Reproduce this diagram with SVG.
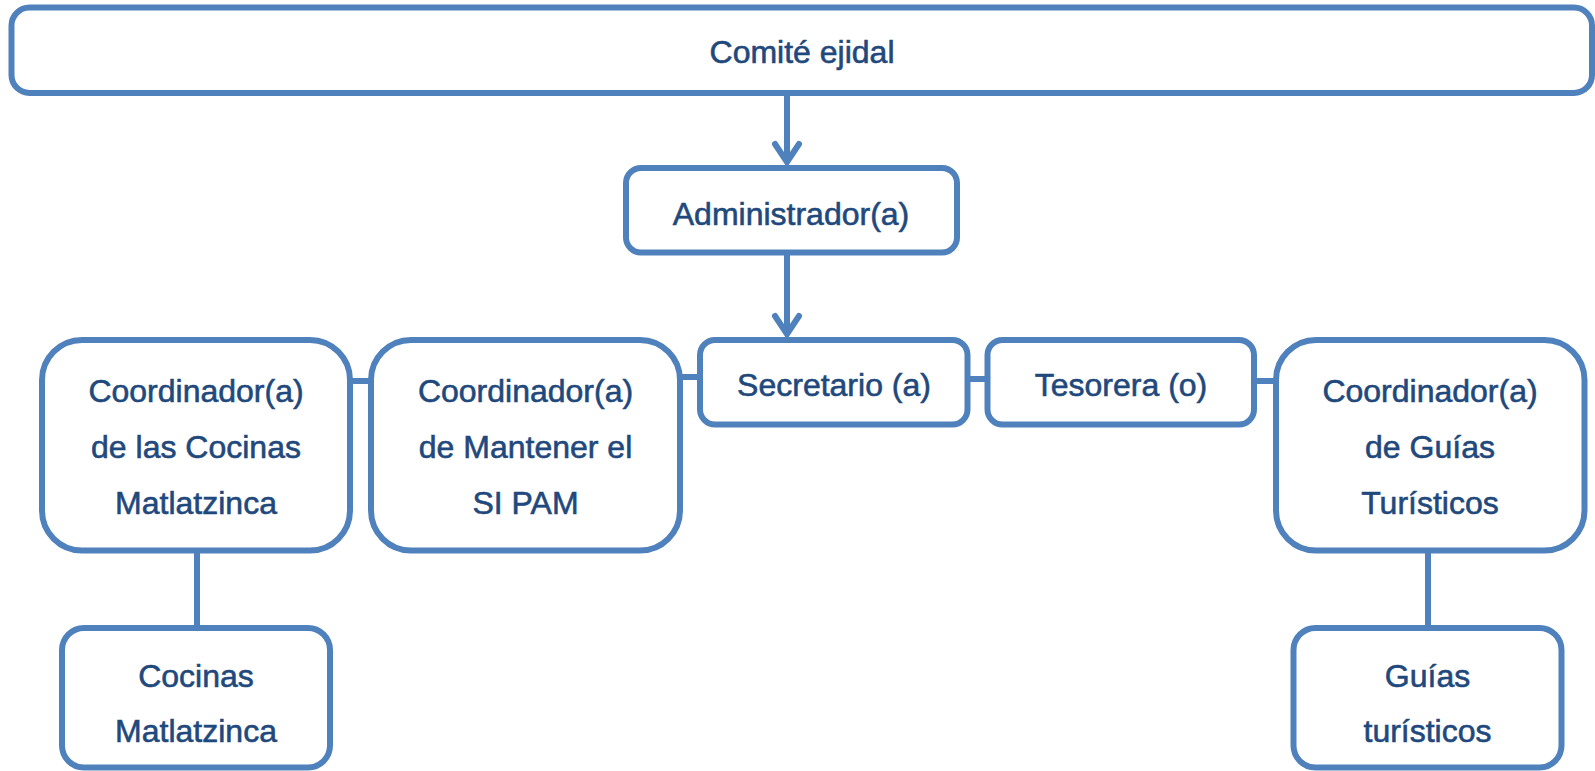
<svg xmlns="http://www.w3.org/2000/svg" width="1595" height="771" viewBox="0 0 1595 771">
<style>
.box{fill:#fff;stroke:#4F81BD;stroke-width:6}
.ln{fill:none;stroke:#4F81BD;stroke-width:6}
text{font-family:"Liberation Sans",Arial,sans-serif;font-size:32px;fill:#1F497D;stroke:#1F497D;stroke-width:0.6;text-anchor:middle}
</style>
<defs>
<marker id="arr" markerUnits="userSpaceOnUse" markerWidth="40" markerHeight="40" refX="22" refY="16" orient="auto">
<path d="M4,4 L22,16 L4,28" fill="none" stroke="#4F81BD" stroke-width="6" stroke-linecap="round" stroke-linejoin="miter"/>
</marker>
</defs>
<g id="connectors">
<line class="ln" x1="787" y1="96" x2="787" y2="162" marker-end="url(#arr)"/>
<line class="ln" x1="787" y1="255" x2="787" y2="334" marker-end="url(#arr)"/>
<line class="ln" x1="350" y1="381" x2="371" y2="381"/>
<line class="ln" x1="680" y1="377" x2="700" y2="377"/>
<line class="ln" x1="967" y1="379" x2="988" y2="379"/>
<line class="ln" x1="1254" y1="381" x2="1276" y2="381"/>
<line class="ln" x1="197" y1="550" x2="197" y2="628"/>
<line class="ln" x1="1428" y1="550" x2="1428" y2="628"/>
</g>
<g id="comite">
<rect class="box" x="11.5" y="7.5" width="1580.5" height="85.5" rx="18"/>
<text x="802" y="63">Comité ejidal</text>
</g>
<g id="administrador">
<rect class="box" x="626" y="168" width="331" height="84.5" rx="15"/>
<text x="791" y="225">Administrador(a)</text>
</g>
<g id="secretario">
<rect class="box" x="700" y="340" width="267.5" height="84.5" rx="15"/>
<text x="834" y="396">Secretario (a)</text>
</g>
<g id="tesorera">
<rect class="box" x="987.5" y="340" width="266.5" height="84.5" rx="15"/>
<text x="1121" y="396">Tesorera (o)</text>
</g>
<g id="coord-cocinas">
<rect class="box" x="42" y="340" width="308" height="210.5" rx="40"/>
<text x="196" y="402">Coordinador(a)</text>
<text x="196" y="458">de las Cocinas</text>
<text x="196" y="514">Matlatzinca</text>
</g>
<g id="coord-sipam">
<rect class="box" x="371" y="340" width="309" height="210.5" rx="40"/>
<text x="525.5" y="402">Coordinador(a)</text>
<text x="525.5" y="458">de Mantener el</text>
<text x="525.5" y="514">SI PAM</text>
</g>
<g id="coord-guias">
<rect class="box" x="1276" y="340" width="308.5" height="210.5" rx="40"/>
<text x="1430" y="402">Coordinador(a)</text>
<text x="1430" y="458">de Guías</text>
<text x="1430" y="514">Turísticos</text>
</g>
<g id="cocinas">
<rect class="box" x="62" y="628" width="268" height="139.5" rx="22"/>
<text x="196" y="687">Cocinas</text>
<text x="196" y="742">Matlatzinca</text>
</g>
<g id="guias">
<rect class="box" x="1293.5" y="628" width="268" height="139.5" rx="22"/>
<text x="1427.5" y="687">Guías</text>
<text x="1427.5" y="742">turísticos</text>
</g>
</svg>
